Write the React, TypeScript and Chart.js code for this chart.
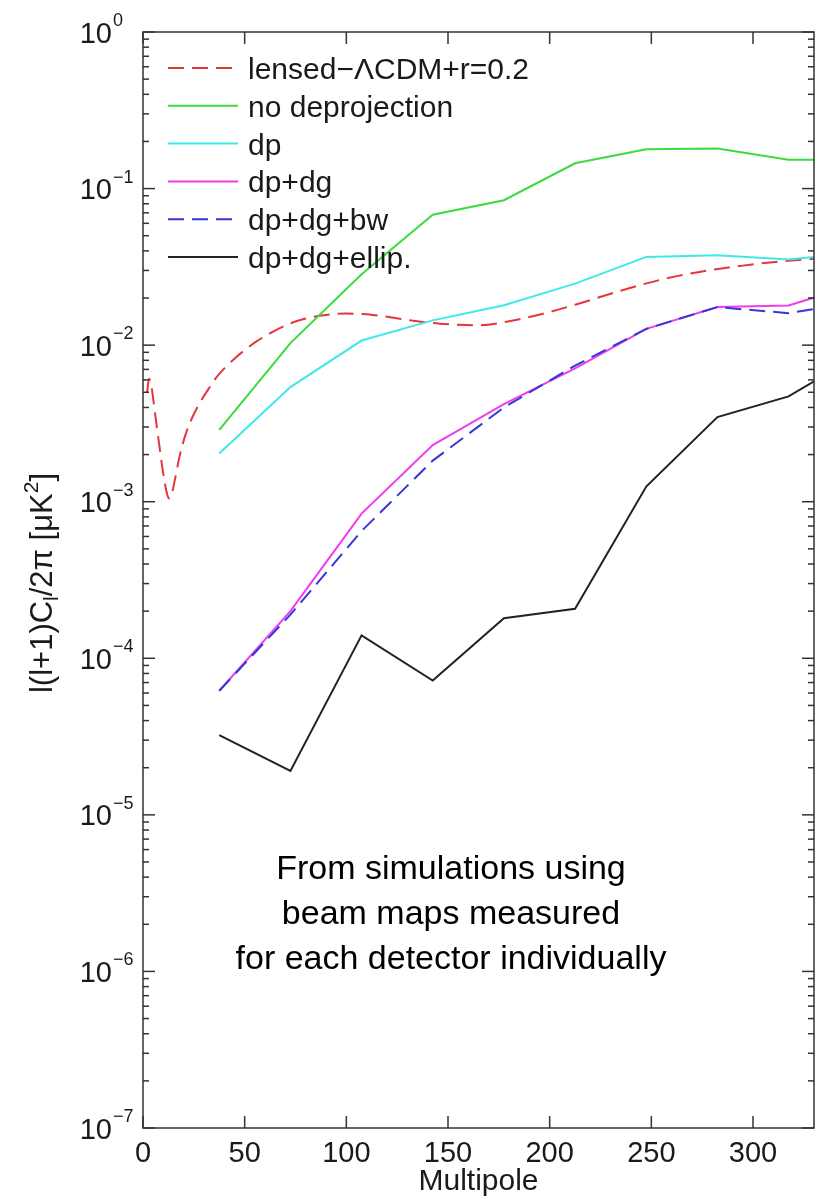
import React, { useEffect, useRef } from 'react';
import { Chart, registerables } from 'chart.js';

Chart.register(...registerables);

// Multipole bin centres (last one lies just beyond the visible range)
const binCenters = [37.5, 72.5, 107.5, 142.5, 177.5, 212.5, 247.5, 282.5, 317.5, 352.5];

const noDeprojection = [2.88e-3, 1.03e-2, 2.84e-2, 6.8e-2, 8.43e-2, 0.145, 0.178, 0.18, 0.153, 0.153];
const dp = [2.03e-3, 5.4e-3, 1.07e-2, 1.44e-2, 1.8e-2, 2.47e-2, 3.66e-2, 3.75e-2, 3.52e-2, 3.9e-2];
const dpDg = [6.2e-5, 2.0e-4, 8.4e-4, 2.3e-3, 4.2e-3, 7.1e-3, 1.27e-2, 1.75e-2, 1.79e-2, 2.48e-2];
const dpDgBw = [6.2e-5, 1.9e-4, 6.5e-4, 1.83e-3, 4.0e-3, 7.4e-3, 1.27e-2, 1.75e-2, 1.6e-2, 1.9e-2];
const dpDgEllip = [3.23e-5, 1.91e-5, 1.4e-4, 7.2e-5, 1.8e-4, 2.07e-4, 1.25e-3, 3.47e-3, 4.71e-3, 8.7e-3];

// Theory curve: lensed-LCDM + r=0.2
const theoryL = [2, 3, 4, 6, 8, 10, 12, 13, 14, 16, 18, 21, 24, 28, 32, 36, 40, 45, 50, 56, 64, 72, 80, 90, 100, 113, 130, 146, 165, 180, 200, 213, 230, 246, 262, 278, 295, 311, 330];
const theoryBB = [5.0e-3, 6.1e-3, 5.6e-3, 3.6e-3, 2.3e-3, 1.5e-3, 1.1e-3, 1.05e-3, 1.1e-3, 1.45e-3, 1.95e-3, 2.7e-3, 3.4e-3, 4.3e-3, 5.2e-3, 6.2e-3, 7.1e-3, 8.2e-3, 9.3e-3, 1.06e-2, 1.22e-2, 1.37e-2, 1.48e-2, 1.56e-2, 1.59e-2, 1.56e-2, 1.45e-2, 1.37e-2, 1.34e-2, 1.42e-2, 1.63e-2, 1.82e-2, 2.13e-2, 2.45e-2, 2.75e-2, 3.0e-2, 3.22e-2, 3.4e-2, 3.56e-2];

const seriesLabels = ['lensed\u2212\u039BCDM+r=0.2', 'no deprojection', 'dp', 'dp+dg', 'dp+dg+bw', 'dp+dg+ellip.'];
const seriesColors = ['#e4363b', '#3dda3d', '#40e8e8', '#ee3cee', '#3438d6', '#222222'];
const seriesDashes: number[][] = [[16, 8], [], [], [], [16, 8], []];

const xTickValues = [0, 50, 100, 150, 200, 250, 300];
const yDecadeExponents = [-7, -6, -5, -4, -3, -2, -1, 0];
const xTitle = 'Multipole';
const annotationLines = ['From simulations using', 'beam maps measured', 'for each detector individually'];

const FONT = '"Liberation Sans", Arial, Helvetica, sans-serif';

const toPoints = (xs: number[], ys: number[]) => xs.map((x, i) => ({ x, y: ys[i] }));

const decorPlugin = {
  id: 'decor',
  afterDraw(chart: any) {
    const { ctx, chartArea, scales } = chart;
    const { left, right, top, bottom } = chartArea;
    const x = scales.x;
    const y = scales.y;
    ctx.save();
    const seg = (x1: number, y1: number, x2: number, y2: number) => {
      ctx.beginPath();
      ctx.moveTo(x1, y1);
      ctx.lineTo(x2, y2);
      ctx.stroke();
    };
    // box
    ctx.strokeStyle = '#333333';
    ctx.lineWidth = 1.5;
    ctx.setLineDash([]);
    ctx.strokeRect(left, top, right - left, bottom - top);
    // x ticks (inward, top and bottom)
    xTickValues.forEach((v) => {
      const px = x.getPixelForValue(v);
      seg(px, bottom, px, bottom - 12);
      seg(px, top, px, top + 12);
    });
    // y ticks (log, major+minor, left and right)
    yDecadeExponents.forEach((e) => {
      for (let m = 1; m <= 9; m++) {
        const v = m * Math.pow(10, e);
        if (v > 1.0000001) break;
        const py = y.getPixelForValue(v);
        const len = m === 1 ? 12 : 6;
        seg(left, py, left + len, py);
        seg(right, py, right - len, py);
      }
    });
    // y tick labels 10^e
    ctx.fillStyle = '#1a1a1a';
    yDecadeExponents.forEach((e) => {
      const py = y.getPixelForValue(Math.pow(10, e));
      ctx.font = `29px ${FONT}`;
      ctx.textAlign = 'right';
      ctx.textBaseline = 'alphabetic';
      ctx.fillText('10', 112, py + 10.5);
      ctx.font = `18px ${FONT}`;
      ctx.textAlign = 'left';
      ctx.fillText(e === 0 ? '0' : '\u2212' + String(-e), 113, py - 6);
    });
    // y axis title with sub/superscripts
    const parts = [
      { t: 'l(l+1)C', s: 31, dy: 0 },
      { t: 'l', s: 21, dy: 6 },
      { t: '/2\u03C0 [\u03BCK', s: 31, dy: 0 },
      { t: '2', s: 21, dy: -14 },
      { t: ']', s: 31, dy: 0 },
    ];
    let total = 0;
    parts.forEach((p) => {
      ctx.font = `${p.s}px ${FONT}`;
      total += ctx.measureText(p.t).width;
    });
    ctx.save();
    ctx.translate(52, (top + bottom) / 2 + 3);
    ctx.rotate(-Math.PI / 2);
    ctx.textAlign = 'left';
    ctx.textBaseline = 'alphabetic';
    let cx = -total / 2;
    parts.forEach((p) => {
      ctx.font = `${p.s}px ${FONT}`;
      ctx.fillText(p.t, cx, p.dy);
      cx += ctx.measureText(p.t).width;
    });
    ctx.restore();
    // legend
    seriesLabels.forEach((label, i) => {
      const ry = 68 + i * 37.8;
      ctx.strokeStyle = seriesColors[i];
      ctx.lineWidth = 2;
      ctx.setLineDash(seriesDashes[i]);
      seg(168, ry, 238, ry);
      ctx.setLineDash([]);
      ctx.fillStyle = '#1a1a1a';
      ctx.font = `30px ${FONT}`;
      ctx.textAlign = 'left';
      ctx.textBaseline = 'alphabetic';
      ctx.fillText(label, 248, ry + 11);
    });
    // annotation
    ctx.fillStyle = '#000000';
    ctx.font = `34px ${FONT}`;
    ctx.textAlign = 'center';
    annotationLines.forEach((line, i) => {
      ctx.fillText(line, 451, 879 + i * 45);
    });
    ctx.restore();
  },
};

export default function App() {
  const canvasRef = useRef<HTMLCanvasElement | null>(null);

  useEffect(() => {
    if (!canvasRef.current) return;
    const binned = [noDeprojection, dp, dpDg, dpDgBw, dpDgEllip];
    const datasets: any[] = [
      {
        label: seriesLabels[0],
        data: toPoints(theoryL, theoryBB),
        borderColor: seriesColors[0],
        borderDash: seriesDashes[0],
        borderWidth: 2,
        pointRadius: 0,
        cubicInterpolationMode: 'monotone',
        order: 6,
      },
      ...binned.map((vals, k) => ({
        label: seriesLabels[k + 1],
        data: toPoints(binCenters, vals),
        borderColor: seriesColors[k + 1],
        borderDash: seriesDashes[k + 1],
        borderWidth: 2,
        pointRadius: 0,
        tension: 0,
        order: 5 - k,
      })),
    ];
    const chart = new Chart(canvasRef.current, {
      type: 'line',
      data: { datasets },
      options: {
        responsive: false,
        animation: false,
        devicePixelRatio: 1,
        layout: { padding: { left: 143, top: 32, right: 2, bottom: 0 } },
        plugins: { legend: { display: false }, tooltip: { enabled: false } },
        scales: {
          x: {
            type: 'linear',
            min: 0,
            max: 330,
            grid: { display: false, drawTicks: false },
            border: { display: false },
            ticks: {
              stepSize: 50,
              includeBounds: false,
              autoSkip: false,
              maxRotation: 0,
              padding: 11,
              color: '#1a1a1a',
              font: { family: FONT, size: 29, lineHeight: 1 },
            },
            title: {
              display: true,
              text: xTitle,
              color: '#1a1a1a',
              font: { family: FONT, size: 30, lineHeight: 1 },
              padding: { top: 2, bottom: 2 },
            },
            afterFit: (s: any) => {
              s.height = 71;
            },
          },
          y: {
            type: 'logarithmic',
            min: 1e-7,
            max: 1,
            grid: { display: false, drawTicks: false },
            border: { display: false },
            ticks: { display: false },
            afterFit: (s: any) => {
              s.width = 0;
            },
          },
        },
      },
      plugins: [decorPlugin],
    } as any);
    return () => chart.destroy();
  }, []);

  return (
    <div style={{ position: 'absolute', left: 0, top: 0, width: 816, height: 1199, background: '#ffffff' }}>
      <canvas ref={canvasRef} width={816} height={1199} style={{ display: 'block' }} />
    </div>
  );
}
